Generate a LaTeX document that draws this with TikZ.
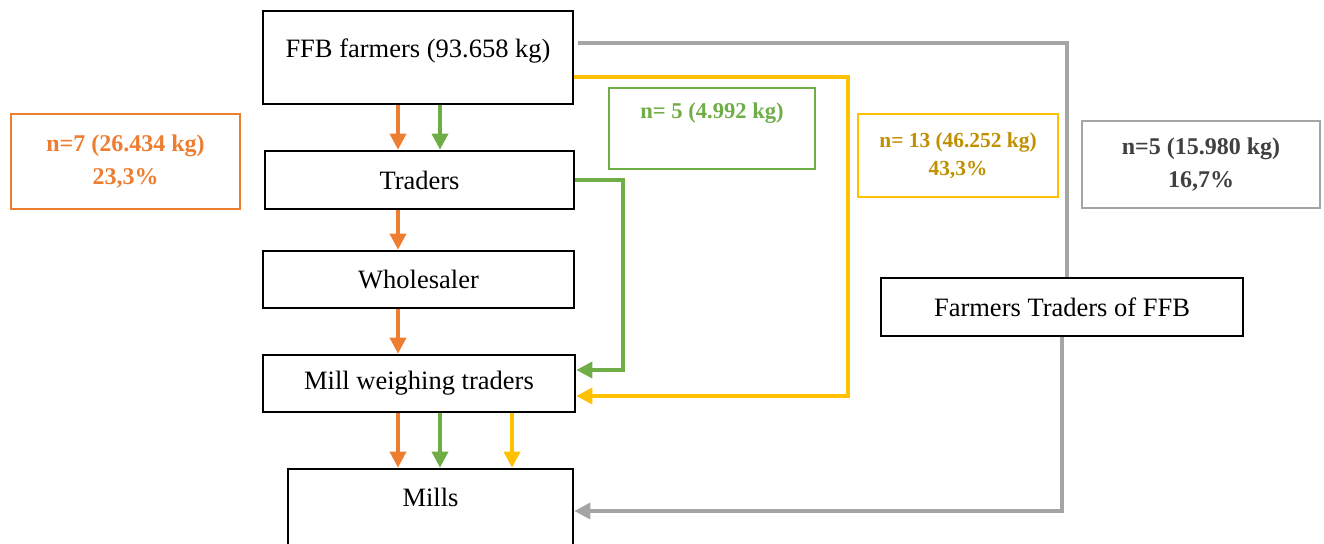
\documentclass[tikz,border=0pt]{standalone}
\usepackage{fontspec}
\setmainfont{Liberation Serif}
\usetikzlibrary{arrows.meta,positioning}
\definecolor{chorange}{HTML}{ED7D31}
\definecolor{chgreen}{HTML}{70AD47}
\definecolor{chyellow}{HTML}{FFC000}
\definecolor{chyellowtext}{HTML}{BF9000}
\definecolor{chgrey}{HTML}{A5A5A5}
\definecolor{chgreytext}{HTML}{404040}
\tikzset{
    actor/.style={draw=black,line width=1.3pt,inner sep=0pt,font=\fontsize{13.25}{16}\selectfont},
    share box/.style={draw=#1,line width=1.3pt,inner sep=0pt,align=center},
    chain arr/.style={-{Triangle[length=8pt,width=8pt]},line width=1.75pt,color=#1},
    chain line/.style={line width=1.75pt,color=#1},
}

\begin{document}
\begin{tikzpicture}[x=0.5pt,y=-0.5pt]
    \useasboundingbox (0,0) rectangle (1324,544);

    % actors in the chain
    \node[actor,minimum width=155pt,minimum height=46.5pt,text height=0.8em,text depth=0.8em] (farmers) at (418,57.5) {FFB farmers (93.658 kg)};
    \node[actor,minimum width=154.5pt,minimum height=29pt] (traders) at (419.5,180) {Traders};
    \node[actor,minimum width=155.5pt,minimum height=28.5pt] (wholesaler) at (418.5,279.5) {Wholesaler};
    \node[actor,minimum width=156pt,minimum height=28.5pt,text depth=0.3em] (millweigh) at (419,383.5) {Mill weighing traders};
    \node[actor,minimum width=142.5pt,minimum height=55pt,text height=0.7em,text depth=24pt] (mills) at (430.5,524) {Mills};
    \node[actor,minimum width=181pt,minimum height=29pt] (ftraders) at (1062,307) {Farmers Traders of FFB};

    % shares of each channel
    \node[share box=chorange,text=chorange,minimum width=114.5pt,minimum height=47.5pt,font=\fontsize{12}{16.5}\selectfont\bfseries] (orangeshare) at (125.5,161.5) {n=7 (26.434 kg)\\23,3\%};
    \node[share box=chgreen,text=chgreen,minimum width=103pt,minimum height=40.5pt,font=\fontsize{11.3}{14}\selectfont\bfseries] (greenshare) at (712,128.5) {n= 5 (4.992 kg)\\\strut};
    \node[share box=chyellow,text=chyellowtext,minimum width=100pt,minimum height=41.5pt,font=\fontsize{10.7}{14}\selectfont\bfseries] (yellowshare) at (958,155.5) {n= 13 (46.252 kg)\\43,3\%};
    \node[share box=chgrey,text=chgreytext,minimum width=119pt,minimum height=43.5pt,font=\fontsize{12}{16.5}\selectfont\bfseries] (greyshare) at (1201,164.5) {n=5 (15.980 kg)\\16,7\%};

    \coordinate (ocol) at (398,0);
    \coordinate (gcol) at (440,0);
    \coordinate (ycol) at (512,0);
    \coordinate (gturn) at (623,280);
    \coordinate (yturn) at (848,200);

    % orange channel
    \draw[chain arr=chorange] (farmers.south -| ocol) -- (traders.north -| ocol);
    \draw[chain arr=chorange] (traders.south -| ocol) -- (wholesaler.north -| ocol);
    \draw[chain arr=chorange] (wholesaler.south -| ocol) -- (millweigh.north -| ocol);
    \draw[chain arr=chorange] (millweigh.south -| ocol) -- (mills.north -| ocol);

    % green channel
    \draw[chain arr=chgreen] (farmers.south -| gcol) -- (traders.north -| gcol);
    \draw[chain arr=chgreen] (traders.east) -| (gturn) |- ([yshift=6.75pt]millweigh.east);
    \draw[chain arr=chgreen] (millweigh.south -| gcol) -- (mills.north -| gcol);

    % yellow channel
    \draw[chain arr=chyellow] ([yshift=-9.75pt]farmers.east) -| (yturn) |- ([yshift=-6.25pt]millweigh.east);
    \draw[chain arr=chyellow] (millweigh.south -| ycol) -- (mills.north -| ycol);

    % grey channel
    \draw[chain line=chgrey,line width=2pt] ([xshift=2pt,yshift=7.25pt]farmers.east) -| ([xshift=2.5pt]ftraders.north);
    \draw[chain arr=chgrey] (ftraders.south) |- ([yshift=6.5pt]mills.east);
\end{tikzpicture}
\end{document}
